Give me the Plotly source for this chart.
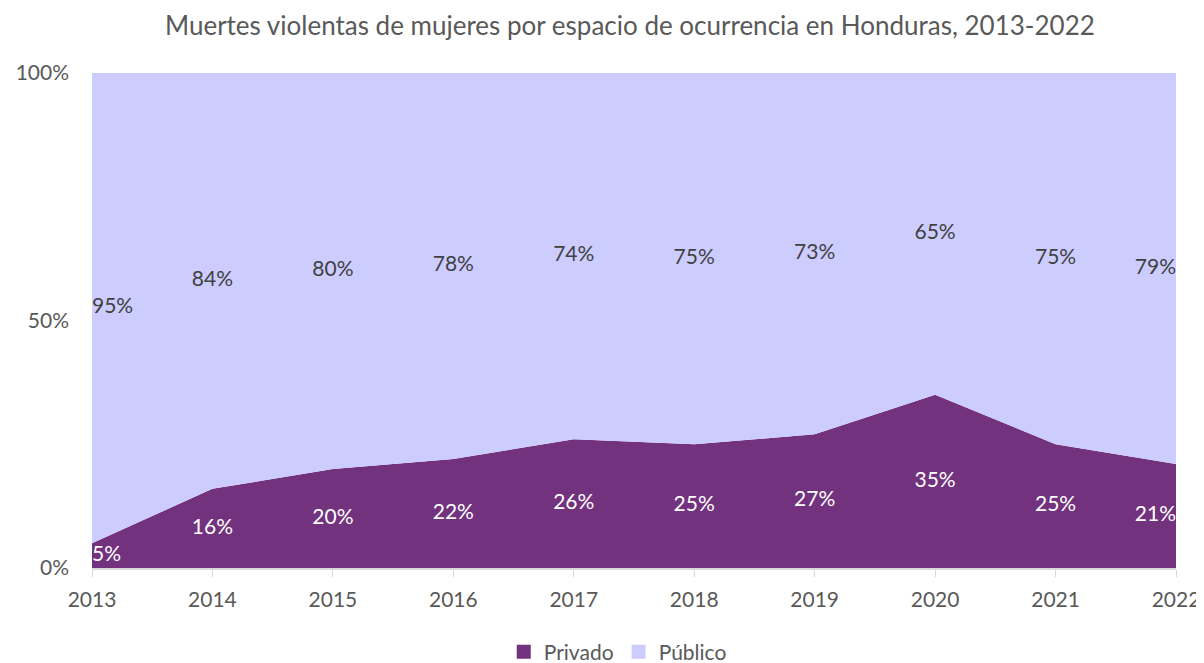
import plotly.graph_objects as go

years = ["2013", "2014", "2015", "2016", "2017", "2018", "2019", "2020", "2021", "2022"]
privado = [5, 16, 20, 22, 26, 25, 27, 35, 25, 21]
publico = [95, 84, 80, 78, 74, 75, 73, 65, 75, 79]
series_names = ["Privado", "Público"]

C_PRIV = "#72327E"
C_PUB = "#CCCCFF"
FONT = "Lato"

fig = go.Figure()
fig.add_trace(go.Scatter(x=years, y=privado, name=series_names[0], mode="lines",
                         line=dict(width=0, color=C_PRIV), fillcolor=C_PRIV,
                         stackgroup="one", hoverinfo="skip", showlegend=False))
fig.add_trace(go.Scatter(x=years, y=publico, name=series_names[1], mode="lines",
                         line=dict(width=0, color=C_PUB), fillcolor=C_PUB,
                         stackgroup="one", hoverinfo="skip", showlegend=False))

n = len(years)
pos = ["middle right"] + ["middle center"] * (n - 2) + ["middle left"]
priv_mid = [p / 2 for p in privado]
pub_mid = [p + q / 2 for p, q in zip(privado, publico)]
fig.add_trace(go.Scatter(x=years, y=priv_mid, mode="text",
                         text=[f"{v}%" for v in privado], textposition=pos,
                         textfont=dict(color="white", size=21, family=FONT),
                         showlegend=False, hoverinfo="skip"))
fig.add_trace(go.Scatter(x=years, y=pub_mid, mode="text",
                         text=[f"{v}%" for v in publico], textposition=pos,
                         textfont=dict(color="#404040", size=21, family=FONT),
                         showlegend=False, hoverinfo="skip"))

# legend entries with square swatches
for name, col in zip(series_names, [C_PRIV, C_PUB]):
    fig.add_trace(go.Scatter(x=[None], y=[None], mode="markers", name=name,
                             marker=dict(symbol="square", size=14, color=col),
                             hoverinfo="skip"))

# page body adds an 8px margin, so the figure is sized to fit the window
fig.update_layout(
    width=1196, height=655,
    paper_bgcolor="white", plot_bgcolor="white",
    font=dict(family=FONT, color="#595959", size=21),
    title=dict(text="Muertes violentas de mujeres por espacio de ocurrencia en Honduras, 2013-2022",
               x=0.520, xanchor="center", y=0.973, yanchor="middle",
               font=dict(size=26, color="#595959", family=FONT)),
    margin=dict(l=84, r=28, t=65, b=95, autoexpand=False),
    xaxis=dict(type="category", range=[0, n - 1], showgrid=False,
               showline=True, linecolor="#D9D9D9", linewidth=1.5,
               ticks="outside", ticklen=7, tickcolor="#D9D9D9",
               ticklabelstandoff=5,
               tickfont=dict(size=21, color="#595959")),
    yaxis=dict(range=[0, 100], tickvals=[0, 50, 100],
               ticktext=["0%", "50%", "100%"], showgrid=False,
               showline=False, zeroline=False, ticks="",
               ticklabelstandoff=22,
               tickfont=dict(size=21, color="#595959")),
    legend=dict(orientation="h", x=0.485, xanchor="center", y=-0.17, yanchor="middle",
                font=dict(size=21, color="#595959"), traceorder="normal",
                itemwidth=30),
)

fig.write_html("out.html")
